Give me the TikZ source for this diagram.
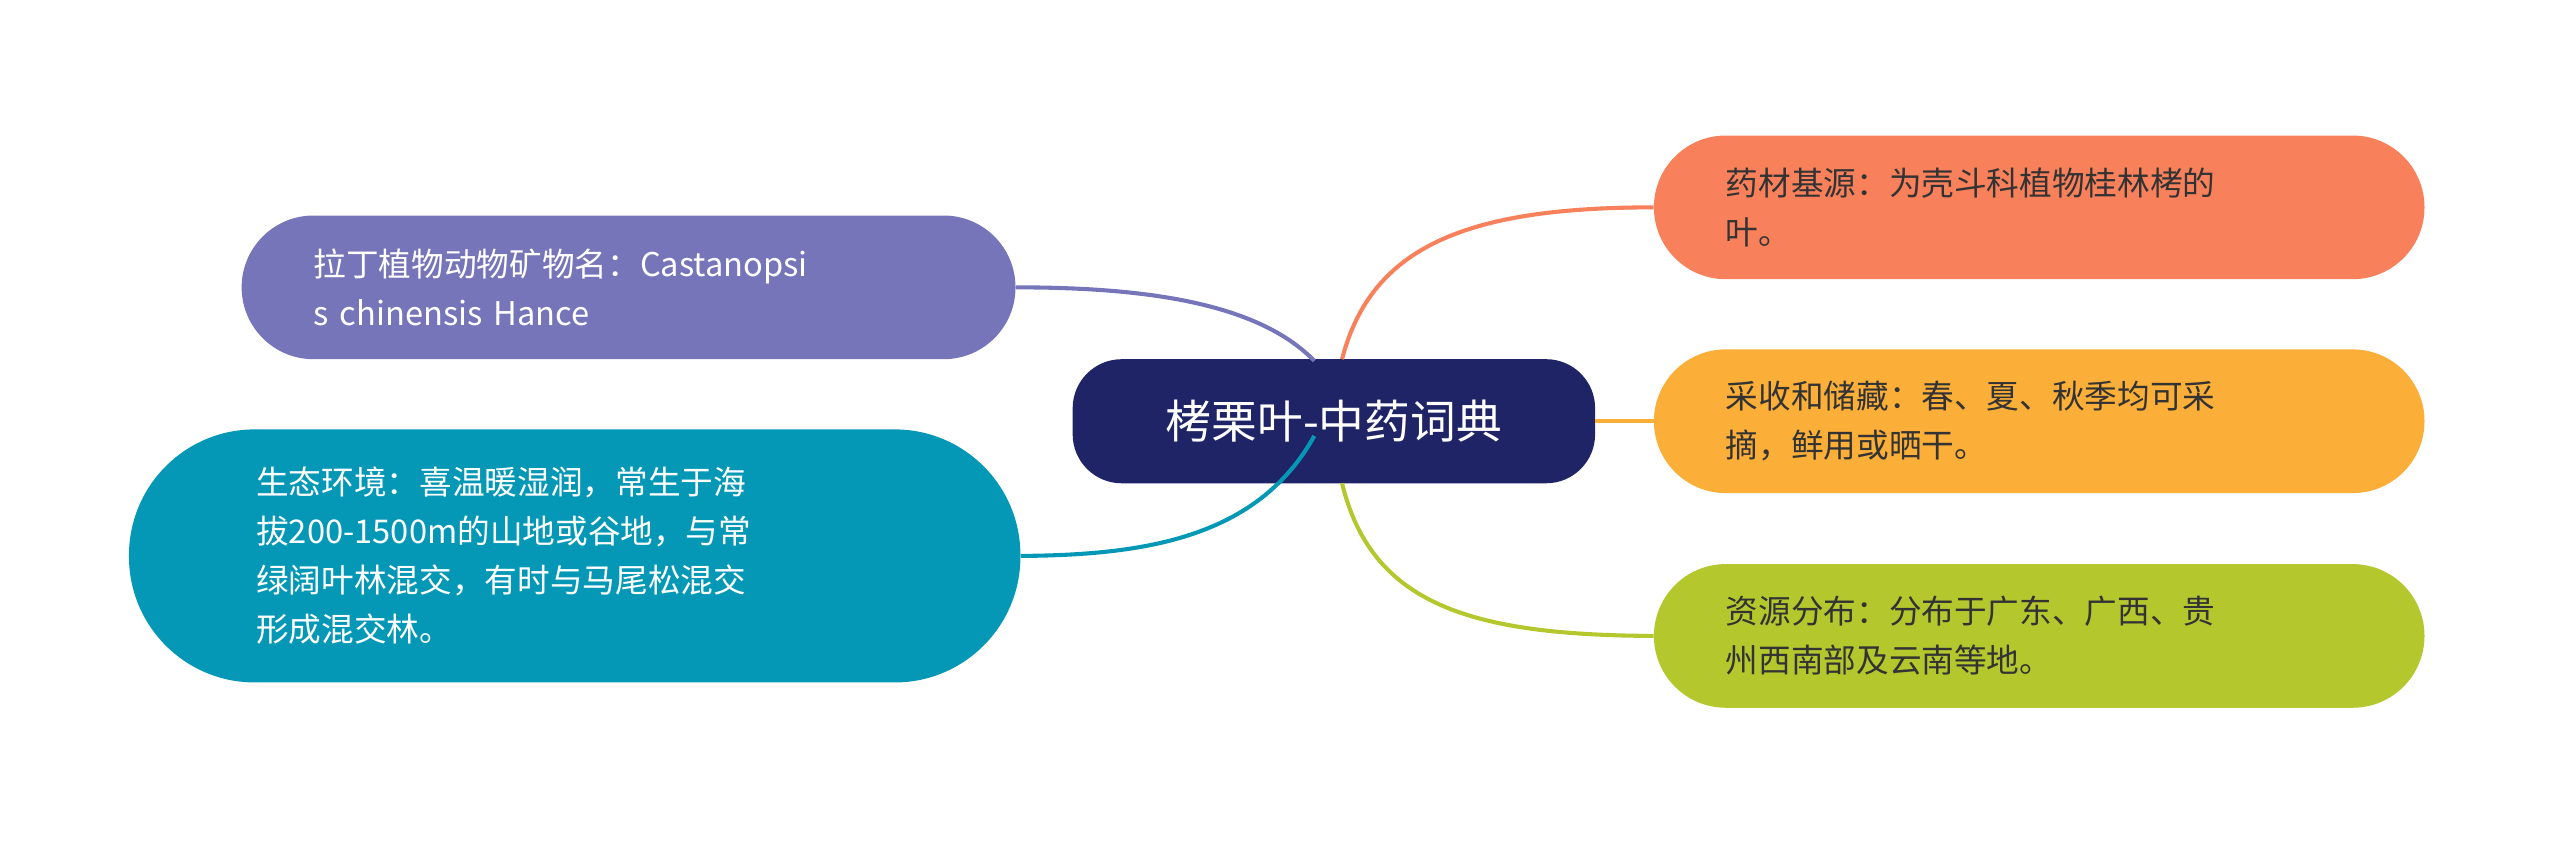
\documentclass[tikz,border=0pt]{standalone}
\usepackage{fontspec}
\setmainfont{Noto Sans CJK SC}
\begin{document}
\begin{tikzpicture}[x=1pt,y=-1pt,
  box/.style={rounded corners=44pt,minimum height=88pt,text width=#1,align=left,inner xsep=44pt,font=\fontsize{20}{30}\selectfont},
  conn/.style={line width=2.5pt}]
\useasboundingbox (0,0) rectangle (1568,517);
\definecolor{cnavy}{HTML}{1F2466}
\definecolor{cpur}{HTML}{7775B9}
\definecolor{cteal}{HTML}{0498B6}
\definecolor{corg}{HTML}{F8815B}
\definecolor{cyel}{HTML}{FBAE38}
\definecolor{cgrn}{HTML}{B4C82E}
\definecolor{ctxt}{HTML}{333333}
\node[fill=cnavy,rounded corners=30pt,minimum width=320pt,minimum height=76pt,text=white,font=\fontsize{28}{34}\selectfont] (c) at (817,258) {栲栗叶-中药词典};
\node[box=386pt,fill=cpur,text=white,minimum width=474pt] (l1) at (385,176) {拉丁植物动物矿物名：Castanopsi\\s chinensis Hance};
\node[box=390pt,fill=cteal,text=white,minimum width=540pt,minimum height=155pt,rounded corners=77pt,inner xsep=78pt] (l2) at (352,340.5) {生态环境：喜温暖湿润，常生于海\\拔200-1500m的山地或谷地，与常\\绿阔叶林混交，有时与马尾松混交\\形成混交林。};
\node[box=384pt,fill=corg,text=ctxt,minimum width=472pt] (r1) at (1249,127) {药材基源：为壳斗科植物桂林栲的\\叶。};
\node[box=384pt,fill=cyel,text=ctxt,minimum width=472pt] (r2) at (1249,258) {采收和储藏：春、夏、秋季均可采\\摘，鲜用或晒干。};
\node[box=384pt,fill=cgrn,text=ctxt,minimum width=472pt] (r3) at (1249,389.5) {资源分布：分布于广东、广西、贵\\州西南部及云南等地。};
\begin{scope}[on background layer/.style={}]
\draw[conn,cpur] (805,221) .. controls (770,185) and (700,176) .. (l1.east);
\draw[conn,cteal] (805,267) .. controls (770,330) and (700,340) .. (l2.east);
\draw[conn,corg] (822,220) .. controls (840,150) and (900,127) .. (r1.west);
\draw[conn,cyel] (c.east) -- (r2.west);
\draw[conn,cgrn] (822,296) .. controls (840,370) and (900,389) .. (r3.west);
\end{scope}
\end{tikzpicture}
\end{document}
